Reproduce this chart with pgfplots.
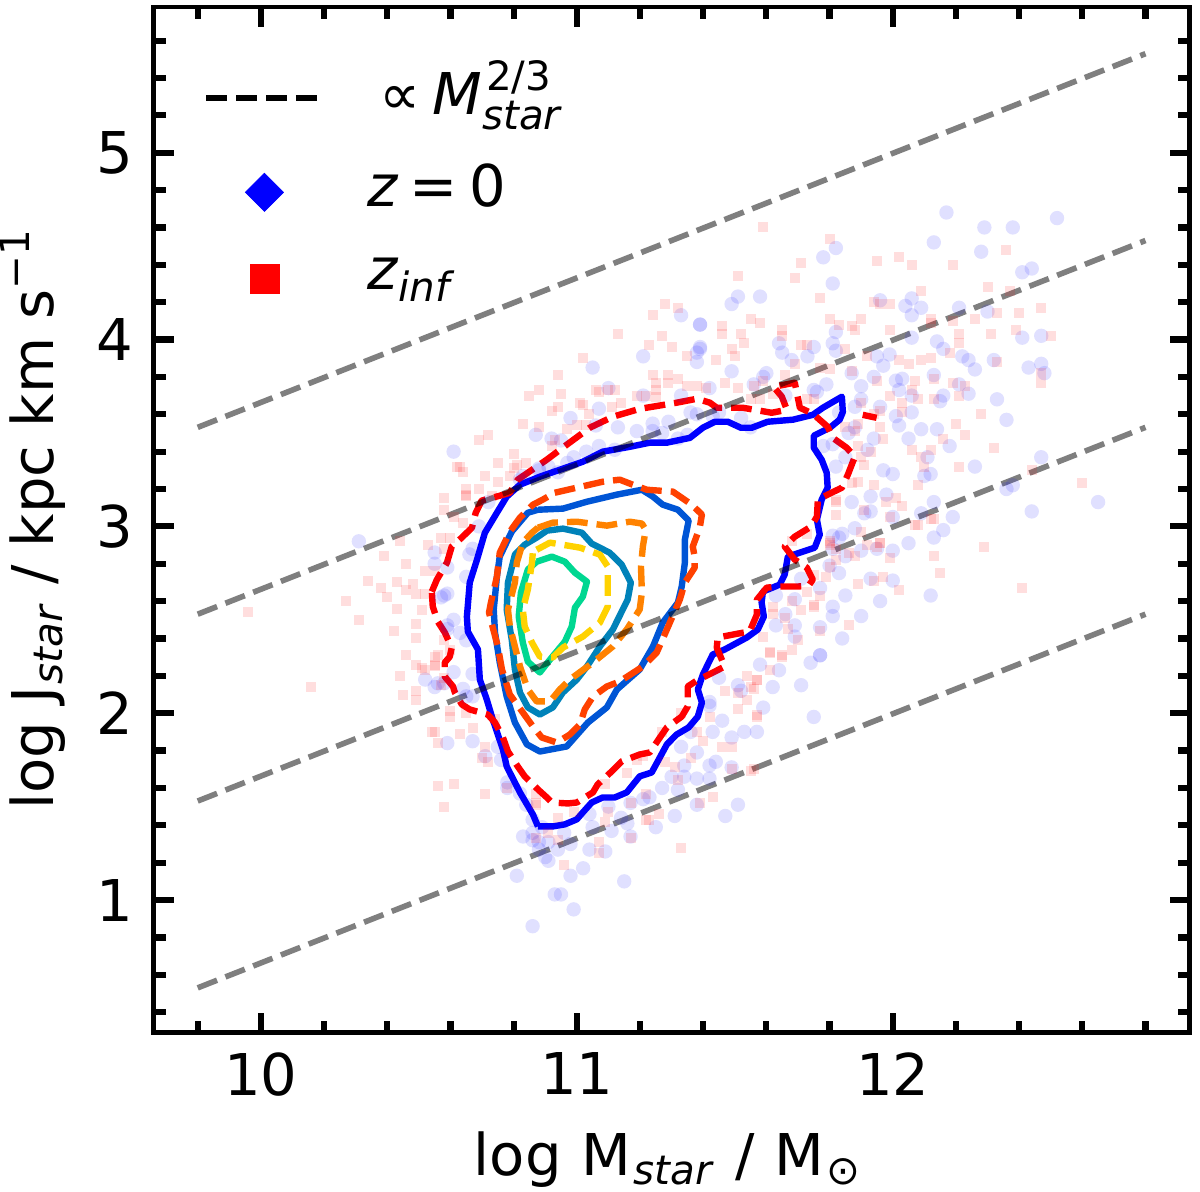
\documentclass[border=0pt]{standalone}
\usepackage{fontspec}
\setmainfont{DejaVu Sans}
\usepackage{pgfplots}
\pgfplotsset{compat=1.18}

\definecolor{zb1}{RGB}{0,0,255}
\definecolor{zb2}{RGB}{0,85,213}
\definecolor{zb3}{RGB}{0,130,185}
\definecolor{zb4}{RGB}{0,215,145}
\definecolor{zr1}{RGB}{255,0,0}
\definecolor{zr2}{RGB}{255,65,0}
\definecolor{zr3}{RGB}{255,130,0}
\definecolor{zr4}{RGB}{255,210,0}

\newcommand{\lsub}[1]{\raisebox{-4.8pt}{\fontsize{20.2}{20.2}\selectfont #1}}
\newcommand{\lsup}[1]{\raisebox{12pt}{\fontsize{20.2}{20.2}\selectfont #1}}

\pgfplotsset{
  solidc/.style={line width=3.2pt, line join=round},
  dashc/.style={line width=3.2pt, line join=round, dash pattern=on 10.4pt off 4.5pt},
  guide/.style={forget plot, black, draw opacity=0.5, line width=2.8pt, dash pattern=on 10.4pt off 4.5pt},
  dashleg/.style={legend image code/.code={\draw[##1] (0pt,-4pt) -- (58.5pt,-4pt);}},
  diamleg/.style={legend image code/.code={\path[##1] plot coordinates {(29pt,-14.5pt)};}},
  squleg/.style={legend image code/.code={\path[##1] plot coordinates {(29pt,-13.5pt)};}},
}

\begin{document}
\begin{tikzpicture}
\path[use as bounding box] (-76.75pt,-79.65pt) rectangle ++(600pt,596pt);
\begin{axis}[
  scale only axis,
  width=518.1pt, height=512.85pt,
  xmin=9.66, xmax=12.94, ymin=0.29, ymax=5.78,
  xtick={10,11,12},
  ytick={1,2,3,4,5},
  minor xtick={9.8,10.2,10.4,10.6,10.8,11.2,11.4,11.6,11.8,12.2,12.4,12.6,12.8},
  minor ytick={0.4,0.6,0.8,1.2,1.4,1.6,1.8,2.2,2.4,2.6,2.8,3.2,3.4,3.6,3.8,4.2,4.4,4.6,4.8,5.2,5.4,5.6},
  tick align=inside,
  major tick length=10pt, minor tick length=6pt,
  every tick/.style={black, line width=3.1pt},
  axis line style={black, line width=2.4pt},
  /pgf/number format/assume math mode=true,
  /pgf/number format/1000 sep={},
  tick label style={font=\fontsize{28.8}{28.8}\selectfont, inner sep=0pt},
  xticklabel style={yshift=-9.7pt},
  yticklabel style={xshift=-10.2pt},
  label style={font=\fontsize{28.8}{28.8}\selectfont},
  xlabel={log\hspace{1pt} M\hspace{1pt}\lsub{\textit{star}}\hspace{1.5pt} / \hspace{1pt}M\hspace{1pt}\lsub{⊙}},
  ylabel={log J\hspace{1pt}\lsub{\textit{star}}\hspace{0.5pt} / kpc km s\raisebox{12pt}{\fontsize{20.2}{20.2}\selectfont −1}},
  xlabel style={at={(axis description cs:0.5,0)}, anchor=base, xshift=-2.2pt, yshift=-71.2pt, inner sep=0pt},
  ylabel style={at={(axis description cs:0,0.5)}, anchor=base, yshift=50.2pt, inner sep=0pt},
  legend style={at={(axis description cs:0.0478,0.9464)}, anchor=north west, draw=none, fill=none,
    inner sep=0pt, column sep=20.5pt, row sep=0pt, nodes={inner sep=0pt, font=\fontsize{28.8}{28.8}\selectfont}},
  legend cell align=left,
]

\addlegendimage{dashleg, black, line width=3pt, dash pattern=on 10.4pt off 4.5pt}
\addlegendentry{\raisebox{0pt}[26pt][8pt]{\hspace{6pt}∝\hspace{6pt}\textit{M}\makebox[0pt][l]{\hspace{2pt}\lsup{2/3}}\raisebox{-7.5pt}{\fontsize{20.2}{20.2}\selectfont\textit{star}}}}
\addlegendimage{diamleg, only marks, mark=diamond*, blue, mark size=9.5pt, mark options={xscale=1.333, draw=none, fill=blue}}
\addlegendentry{\raisebox{0pt}[44.5pt][10pt]{\textit{z}\hspace{5.6pt}=\hspace{5.6pt}0}}
\addlegendimage{squleg, only marks, mark=square*, red, mark size=7.25pt, mark options={draw=none, fill=red}}
\addlegendentry{\raisebox{0pt}[39pt][8pt]{\textit{z}\raisebox{-6pt}{\fontsize{20.2}{20.2}\selectfont\textit{inf}}}}

% blue points, z=0
\addplot[forget plot, only marks, blue, mark=*, mark size=3.6pt, mark options={draw opacity=0, fill=blue, fill opacity=0.12}] coordinates {
(12.17,4.68)(12.29,4.60)(12.38,4.60)(12.52,4.65)(12.13,4.52)(12.28,4.47)(11.82,4.49)(11.78,4.44)(11.81,4.30)
(11.51,4.23)(11.49,4.19)(11.58,4.23)(12.41,4.36)(12.44,4.38)(11.39,4.08)(11.82,4.04)(11.81,3.98)(11.82,3.94)
(12.06,4.22)(12.04,4.18)(12.06,4.13)(12.09,4.17)(12.21,4.17)(12.30,4.15)(11.96,4.21)(12.06,4.01)(12.14,3.99)
(12.16,3.95)(12.22,3.91)(12.24,3.89)(12.26,3.84)(12.32,3.89)(12.41,4.01)(12.47,4.02)(12.43,3.85)(12.47,3.87)
(12.48,3.82)(11.64,3.98)(11.65,3.93)(11.68,3.89)(11.73,3.91)(11.75,3.96)(11.49,3.83)(11.42,3.74)(11.39,3.96)
(11.60,3.82)(11.59,3.80)(11.56,3.76)(11.79,3.76)(11.87,3.82)(11.94,3.80)(11.99,3.92)(11.95,3.91)(11.97,3.86)
(12.01,3.78)(12.03,3.79)(12.02,3.73)(12.06,3.70)(12.06,3.61)(12.01,3.59)(12.02,3.54)(12.09,3.52)(12.14,3.52)
(12.05,3.47)(12.18,3.43)(12.33,3.68)(12.36,3.57)(12.24,3.71)(12.21,3.76)(12.16,3.70)(12.13,3.81)(12.15,3.67)
(11.96,3.64)(11.90,3.75)(11.94,3.47)(11.92,3.41)(11.85,3.37)(11.82,3.32)(11.97,3.30)(12.00,3.28)(12.12,3.28)
(12.10,3.27)(12.26,3.32)(12.11,3.37)(11.93,3.16)(11.98,3.17)(11.87,3.13)(11.93,3.08)(11.91,3.07)(12.00,3.05)
(12.13,3.13)(12.09,3.07)(12.19,3.05)(12.36,3.20)(12.38,3.22)(12.47,3.37)(12.44,3.08)(12.65,3.13)(11.84,2.96)
(11.88,2.99)(11.81,2.95)(12.05,2.91)(12.13,2.94)(12.16,2.98)(11.76,3.72)(11.75,3.73)(11.66,3.70)(11.55,3.53)
(11.52,3.58)(11.45,3.61)(11.43,3.59)(11.78,3.43)(11.81,3.44)(11.86,3.50)(11.88,3.53)(11.88,3.64)(11.90,3.68)(11.83,3.61)
(10.61,3.40)(11.05,3.85)(11.21,3.91)(11.33,4.13)(11.39,4.08)(11.39,3.95)(11.38,3.93)(11.38,3.88)(11.33,3.70)
(11.21,3.70)(11.10,3.74)(11.07,3.63)(10.98,3.58)(11.13,3.53)(11.06,3.54)(11.19,3.51)(11.24,3.55)(11.29,3.56)
(11.36,3.61)(11.38,3.60)(11.24,3.51)(11.27,3.50)(10.87,3.49)(10.92,3.47)(10.95,3.46)(10.97,3.34)(10.99,3.37)
(11.03,3.40)(11.07,3.43)(11.12,3.41)(10.91,3.32)(10.88,3.31)(10.83,3.27)(10.94,3.29)(11.32,3.47)(11.35,3.49)
(10.31,2.92)(10.55,2.86)(10.55,2.80)(10.59,2.78)(10.67,2.88)(10.66,2.85)(10.65,2.73)(10.58,2.63)(10.59,2.64)
(10.57,2.62)(10.61,2.50)(10.59,2.47)(10.59,2.45)(10.65,2.39)(10.63,2.43)(10.61,2.22)(10.52,2.18)(10.56,2.16)
(10.67,2.21)(10.69,3.00)(10.72,3.13)(10.82,3.25)(10.88,3.30)(10.55,2.14)(10.58,2.16)(10.67,2.09)(10.64,2.13)
(10.67,1.85)(10.59,1.84)(10.71,1.77)(10.75,1.82)(10.76,1.75)(10.78,1.63)(10.78,1.60)(10.82,1.57)(10.84,1.51)
(10.83,1.34)(10.89,1.39)(10.86,1.36)(10.88,1.27)(10.91,1.31)(10.65,2.09)(10.86,1.43)(10.86,1.32)(10.88,1.31)
(10.91,1.21)(10.90,1.23)(10.94,1.27)(10.96,1.36)(10.98,1.30)(10.98,1.13)(11.02,1.17)(10.81,1.13)(10.93,1.03)
(10.95,1.03)(10.99,0.95)(10.86,0.86)(11.15,1.10)(11.04,1.27)(11.09,1.26)(11.11,1.37)(11.17,1.34)(11.16,1.41)
(11.14,1.44)(11.04,1.46)(11.05,1.39)(11.10,1.50)(11.17,1.52)(11.21,1.54)(11.23,1.55)(11.27,1.60)(11.32,1.59)
(11.30,1.66)(11.34,1.66)(11.34,1.72)(11.38,1.65)(11.42,1.72)(11.42,1.65)(11.31,1.45)(11.25,1.39)(11.38,1.51)
(11.47,1.45)(11.51,1.51)(11.49,1.71)(11.44,1.74)(11.38,1.79)(11.33,1.82)(11.36,1.90)(11.43,1.90)(11.46,1.96)
(11.49,1.87)(11.53,1.90)(11.57,1.90)(11.75,1.98)(11.59,2.03)(11.62,2.14)(11.71,2.15)(11.74,2.27)(11.77,2.31)
(11.58,2.26)(11.64,2.23)(11.51,2.15)(11.52,2.12)(11.42,2.06)(11.42,2.04)(11.45,2.19)(12.00,2.87)(11.95,2.88)
(11.90,2.87)(11.83,2.94)(11.81,2.88)(11.85,2.84)(11.83,2.75)(11.80,2.79)(11.71,2.72)(11.93,2.72)(12.00,2.71)
(11.85,2.63)(11.96,2.60)(12.12,2.63)(11.81,2.57)(11.81,2.52)(11.90,2.52)(11.77,2.67)(11.77,2.46)(11.84,2.40)
(11.69,2.47)(11.63,2.47)(11.66,2.53)(11.69,2.41)(11.77,2.31)(11.69,2.61)(11.63,2.63)
};
% red points, z_inf
\addplot[forget plot, only marks, red, mark=square*, mark size=2.5pt, mark options={draw opacity=0, fill=red, fill opacity=0.13}] coordinates {
(11.59,4.60)(11.80,4.54)(11.71,4.41)(11.95,4.42)(12.02,4.44)(12.06,4.40)(12.19,4.40)(12.36,4.48)(11.51,4.34)
(11.69,4.33)(11.77,4.22)(11.94,4.20)(11.96,4.19)(11.99,4.19)(12.09,4.26)(12.30,4.28)(12.37,4.26)(12.47,4.17)
(12.40,4.14)(12.33,4.14)(12.26,4.11)(11.80,4.11)(11.55,4.11)(11.58,4.09)(11.83,4.08)(11.90,4.11)(11.87,4.07)
(11.88,4.05)(11.46,4.07)(11.46,4.03)(11.52,4.03)(11.65,4.05)(11.65,4.02)(11.99,4.05)(12.12,4.11)(12.12,4.09)
(12.19,4.10)(12.21,4.03)(12.21,3.98)(12.31,4.03)(12.39,4.05)(12.50,4.02)(11.53,3.98)(11.49,3.95)(11.50,3.91)
(11.44,3.89)(11.71,3.97)(11.73,3.97)(11.85,3.95)(11.92,3.91)(12.02,3.89)(12.05,3.87)(12.09,3.89)(12.12,3.90)
(12.18,3.93)(12.33,3.88)(12.47,3.77)(12.47,3.82)(12.07,3.78)(12.13,3.79)(12.19,3.77)(12.23,3.75)(12.21,3.70)
(12.13,3.68)(12.08,3.68)(12.06,3.73)(11.99,3.70)(11.95,3.78)(11.87,3.83)(11.80,3.84)(11.77,3.85)(11.69,3.87)
(11.66,3.81)(11.59,3.78)(11.56,3.75)(11.47,3.77)(11.51,3.74)(11.41,3.74)(11.75,3.68)(11.73,3.68)(11.58,3.68)
(11.62,3.71)(11.55,3.68)(11.94,3.60)(11.96,3.62)(11.90,3.66)(12.03,3.66)(12.03,3.61)(11.96,3.53)(11.89,3.55)
(11.85,3.53)(11.88,3.51)(11.97,3.47)(12.16,3.47)(12.23,3.49)(12.32,3.42)(12.06,3.41)(12.09,3.37)(12.10,3.32)
(12.12,3.41)(12.20,3.55)(12.28,3.60)(12.21,3.32)(12.08,3.22)(12.44,3.30)(12.60,3.23)(11.87,3.23)(11.94,3.22)
(11.89,3.24)(12.01,3.15)(12.03,3.11)(11.98,3.13)(11.82,3.14)(11.82,3.06)(11.91,3.09)(11.99,3.05)(12.08,3.01)
(12.12,3.04)(11.96,2.91)(11.80,2.90)(12.29,2.89)(11.95,2.89)(11.90,3.37)(11.93,3.40)(11.91,3.33)(11.89,3.43)
(11.13,4.03)(11.24,4.13)(11.28,4.19)(11.32,4.17)(11.27,4.02)(11.23,3.97)(11.30,3.96)(11.35,3.91)(11.02,3.90)
(10.94,3.81)(10.85,3.70)(10.88,3.73)(10.95,3.71)(10.94,3.64)(10.92,3.62)(11.06,3.73)(11.12,3.73)(11.01,3.66)
(11.02,3.65)(11.04,3.60)(11.11,3.64)(11.14,3.66)(10.83,3.55)(10.72,3.49)(10.69,3.46)(10.88,3.53)(10.97,3.52)
(11.00,3.54)(11.03,3.54)(10.80,3.39)(10.75,3.34)(10.81,3.33)(10.84,3.34)(10.80,3.31)(10.62,3.32)(10.64,3.29)
(10.71,3.27)(10.75,3.24)(10.79,3.27)(10.65,3.20)(10.69,3.20)(10.65,3.16)(10.73,3.16)(11.24,3.81)(11.29,3.81)
(11.32,3.79)(11.25,3.77)(11.25,3.73)(11.29,3.77)(11.35,3.75)(11.38,3.75)(11.19,3.70)(11.22,3.70)(11.25,3.69)
(11.10,3.73)(11.07,3.72)(10.92,3.43)(10.93,3.46)(10.63,3.32)(10.58,3.15)(10.58,3.09)(10.65,3.17)(10.61,3.05)
(10.64,3.02)(10.57,2.94)(10.60,2.94)(10.44,2.92)(10.53,2.90)(10.39,2.84)(10.46,2.80)(10.58,2.88)(10.52,2.76)
(10.55,2.76)(10.34,2.71)(10.43,2.70)(10.48,2.69)(10.38,2.67)(10.40,2.62)(10.46,2.66)(10.49,2.64)(10.52,2.64)
(10.27,2.60)(10.43,2.56)(10.51,2.55)(10.31,2.50)(10.49,2.48)(10.42,2.44)(10.49,2.40)(10.46,2.31)(10.49,2.26)
(10.56,2.31)(10.55,2.26)(10.52,2.23)(10.44,2.20)(10.16,2.14)(10.45,2.10)(10.49,2.12)(10.57,2.15)(9.96,2.54)
(10.49,2.07)(10.58,2.19)(10.51,2.24)(10.55,2.30)(10.55,2.25)(10.58,2.39)(10.60,2.34)(10.60,1.98)(10.60,2.01)
(10.65,2.00)(10.54,1.90)(10.55,1.90)(10.56,1.84)(10.63,1.89)(10.67,1.92)(10.71,1.82)(10.70,1.76)(10.72,1.74)
(10.56,1.61)(10.61,1.62)(10.71,1.57)(10.58,1.50)(10.78,1.60)(10.87,1.57)(10.87,1.51)(10.74,1.97)(10.87,1.52)
(10.94,1.44)(10.99,1.47)(11.09,1.62)(11.16,1.68)(11.10,1.47)(11.09,1.42)(10.87,1.33)(10.91,1.36)(10.94,1.32)
(10.96,1.19)(11.07,1.31)(11.07,1.25)(11.17,1.33)(11.17,1.52)(11.22,1.57)(11.23,1.43)(11.22,1.43)(11.26,1.46)
(11.21,1.77)(11.19,1.75)(11.27,1.90)(11.28,1.74)(11.31,1.71)(11.32,1.64)(11.36,1.76)(11.33,1.28)(11.43,1.55)
(11.39,1.52)(11.49,1.70)(11.56,1.70)(11.46,1.82)(11.49,1.82)(11.38,1.90)(11.40,1.85)(11.47,2.12)(11.51,2.02)
(11.54,2.07)(11.55,2.14)(11.51,2.11)(11.54,2.20)(11.57,2.18)(11.61,2.32)(11.65,2.31)(11.57,1.99)(11.42,1.98)
(11.33,2.00)(12.13,2.84)(12.15,2.75)(12.41,2.67)(12.02,2.66)(11.89,2.69)(11.97,2.73)(11.94,2.71)(11.99,2.83)
(12.07,3.01)(12.13,3.04)(11.90,2.97)(11.92,2.90)(11.96,2.91)(11.88,2.84)(11.86,2.86)(11.80,2.92)(11.80,2.91)
(11.82,2.88)(11.82,2.82)(11.79,2.73)(11.80,2.78)(11.75,2.74)(11.73,2.65)(11.77,2.63)(11.68,2.60)(11.75,2.58)
(11.75,2.57)(11.71,2.55)(11.62,2.57)(11.62,2.53)(11.77,2.44)(11.86,2.47)(11.66,2.51)(11.67,2.45)(11.70,2.39)
(11.68,2.34)(11.65,2.30)(11.61,2.33)(11.59,2.41)(11.61,2.23)(11.56,2.13)(11.57,2.18)(11.57,1.98)(11.55,1.69)
(11.82,3.13)(11.68,2.92)(11.73,2.96)
};

% z=0 contours
\addplot[forget plot, zb1, solidc] coordinates {
(10.877,1.394)(10.924,1.394)(10.962,1.405)(11.000,1.432)(11.019,1.469)(11.047,1.522)(11.082,1.549)(11.120,1.549)
(11.158,1.576)(11.199,1.662)(11.237,1.683)(11.256,1.742)(11.285,1.833)(11.316,1.886)(11.354,1.924)(11.383,1.982)
(11.396,2.057)(11.383,2.127)(11.399,2.207)(11.430,2.314)(11.468,2.341)(11.538,2.405)(11.573,2.448)(11.592,2.517)
(11.585,2.592)(11.589,2.651)(11.642,2.688)(11.658,2.742)(11.668,2.838)(11.753,2.886)(11.769,2.956)(11.760,3.036)
(11.775,3.143)(11.794,3.207)(11.791,3.287)(11.775,3.357)(11.750,3.421)(11.750,3.485)(11.801,3.528)(11.832,3.571)
(11.842,3.613)(11.839,3.694)(11.779,3.635)(11.747,3.597)(11.684,3.571)(11.604,3.560)(11.554,3.528)(11.519,3.528)
(11.478,3.560)(11.437,3.560)(11.399,3.528)(11.358,3.474)(11.285,3.448)(11.231,3.448)(11.168,3.426)(11.082,3.400)
(11.019,3.346)(10.946,3.303)(10.883,3.266)(10.820,3.223)(10.778,3.159)(10.747,3.073)(10.709,2.966)(10.684,2.822)
(10.661,2.699)(10.652,2.517)(10.655,2.437)(10.687,2.341)(10.693,2.180)(10.715,2.073)(10.734,1.966)(10.766,1.806)
(10.778,1.715)(10.820,1.576)(10.861,1.458)(10.877,1.394)
};
\addplot[forget plot, zb2, solidc] coordinates {
(10.877,3.089)(10.956,3.095)(11.032,3.132)(11.127,3.170)(11.206,3.196)(11.241,3.159)(11.272,3.116)(11.320,3.089)
(11.354,3.031)(11.342,2.929)(11.342,2.806)(11.332,2.678)(11.320,2.592)(11.272,2.485)(11.241,2.357)(11.199,2.234)
(11.127,2.127)(11.095,2.031)(11.035,1.950)(10.968,1.822)(10.883,1.795)(10.842,1.833)(10.804,1.950)(10.778,2.089)
(10.756,2.271)(10.741,2.432)(10.737,2.555)(10.747,2.731)(10.756,2.838)(10.794,2.972)(10.845,3.073)(10.877,3.089)
};
\addplot[forget plot, zb3, solidc] coordinates {
(10.873,2.940)(10.905,2.977)(10.956,2.988)(11.016,2.966)(11.047,2.908)(11.104,2.859)(11.142,2.795)(11.171,2.699)
(11.161,2.608)(11.114,2.448)(11.073,2.357)(11.032,2.250)(11.000,2.180)(10.956,2.111)(10.924,2.031)(10.883,1.993)
(10.845,2.031)(10.820,2.111)(10.804,2.234)(10.794,2.394)(10.778,2.555)(10.782,2.699)(10.804,2.849)(10.835,2.902)(10.873,2.940)
};
\addplot[forget plot, zb4, solidc] coordinates {
(10.873,2.811)(10.921,2.838)(10.962,2.811)(10.994,2.752)(11.032,2.704)(11.019,2.624)(10.994,2.565)(10.984,2.464)
(10.962,2.383)(10.915,2.287)(10.883,2.218)(10.845,2.276)(10.829,2.378)(10.816,2.517)(10.823,2.646)(10.845,2.769)(10.873,2.811)
};

% z_inf contours
\addplot[forget plot, zr1, dashc] coordinates {
(10.541,2.651)(10.557,2.715)(10.589,2.806)(10.604,2.892)(10.636,2.940)(10.668,2.993)(10.680,3.073)(10.699,3.138)
(10.756,3.164)(10.788,3.180)(10.813,3.250)(10.905,3.357)(10.968,3.437)(11.041,3.528)(11.114,3.587)(11.199,3.629)
(11.316,3.662)(11.380,3.683)(11.421,3.662)(11.443,3.635)(11.525,3.635)(11.617,3.608)(11.665,3.624)(11.649,3.694)
(11.623,3.747)(11.690,3.769)(11.699,3.694)(11.706,3.635)(11.747,3.603)(11.794,3.533)(11.810,3.474)(11.854,3.421)
(11.880,3.373)(11.858,3.277)(11.839,3.207)(11.794,3.170)(11.763,3.143)(11.760,3.052)(11.741,2.998)(11.690,2.945)
(11.658,2.892)(11.690,2.822)(11.728,2.779)(11.747,2.715)(11.734,2.683)(11.699,2.678)(11.636,2.678)(11.601,2.672)
(11.570,2.608)(11.570,2.528)(11.547,2.437)(11.510,2.426)(11.446,2.405)(11.443,2.351)(11.468,2.250)(11.437,2.223)
(11.380,2.175)(11.351,2.143)(11.351,2.036)(11.332,1.982)(11.285,1.924)(11.263,1.870)(11.231,1.790)(11.199,1.779)
(11.142,1.742)(11.114,1.694)(11.066,1.619)(11.051,1.576)(11.000,1.522)(10.972,1.517)(10.921,1.522)(10.905,1.549)
(10.877,1.592)(10.835,1.662)(10.813,1.715)(10.782,1.795)(10.766,1.870)(10.741,1.950)(10.718,1.993)(10.661,2.020)
(10.636,2.047)(10.614,2.111)(10.608,2.143)(10.582,2.196)(10.582,2.271)(10.598,2.303)(10.604,2.351)(10.582,2.432)
(10.560,2.490)(10.544,2.571)(10.541,2.651)
};
\addplot[forget plot, zr1, dashc] coordinates {(11.905,3.597)(11.949,3.581)};
\addplot[forget plot, zr2, dashc] coordinates {
(10.930,3.180)(11.082,3.239)(11.136,3.250)(11.177,3.223)(11.222,3.196)(11.304,3.186)(11.364,3.116)(11.396,3.063)
(11.389,2.993)(11.367,2.892)(11.373,2.838)(11.373,2.779)(11.342,2.699)(11.326,2.608)(11.285,2.448)(11.253,2.325)
(11.209,2.250)(11.136,2.170)(11.095,2.143)(11.051,2.089)(11.025,2.020)(11.010,1.940)(10.978,1.886)(10.937,1.843)
(10.889,1.870)(10.861,1.929)(10.829,2.004)(10.788,2.100)(10.763,2.234)(10.750,2.357)(10.734,2.458)(10.722,2.539)
(10.728,2.592)(10.747,2.731)(10.756,2.859)(10.788,2.972)(10.820,3.047)(10.861,3.116)(10.892,3.143)(10.930,3.180)
};
\addplot[forget plot, zr3, dashc] coordinates {
(10.877,2.993)(10.924,3.020)(11.000,3.025)(11.095,3.004)(11.168,3.025)(11.206,3.015)(11.218,2.982)(11.209,2.892)
(11.203,2.785)(11.206,2.646)(11.199,2.555)(11.158,2.448)(11.114,2.357)(11.051,2.271)(10.978,2.180)(10.946,2.127)
(10.915,2.063)(10.873,2.063)(10.845,2.127)(10.820,2.250)(10.788,2.464)(10.782,2.555)(10.804,2.699)(10.810,2.806)
(10.829,2.913)(10.858,2.966)(10.877,2.993)
};
\addplot[forget plot, zr4, dashc] coordinates {
(10.873,2.875)(10.915,2.913)(11.010,2.886)(11.073,2.849)(11.098,2.785)(11.098,2.662)(11.098,2.571)(11.073,2.485)
(11.019,2.410)(10.956,2.351)(10.924,2.298)(10.883,2.303)(10.858,2.378)(10.835,2.464)(10.829,2.555)(10.845,2.662)
(10.858,2.806)(10.861,2.865)(10.873,2.875)
};

% slope 2/3 guides
\addplot[guide] coordinates {(9.8,0.53)(12.8,2.53)};
\addplot[guide] coordinates {(9.8,1.53)(12.8,3.53)};
\addplot[guide] coordinates {(9.8,2.53)(12.8,4.53)};
\addplot[guide] coordinates {(9.8,3.53)(12.8,5.53)};

\end{axis}
\end{tikzpicture}
\end{document}
